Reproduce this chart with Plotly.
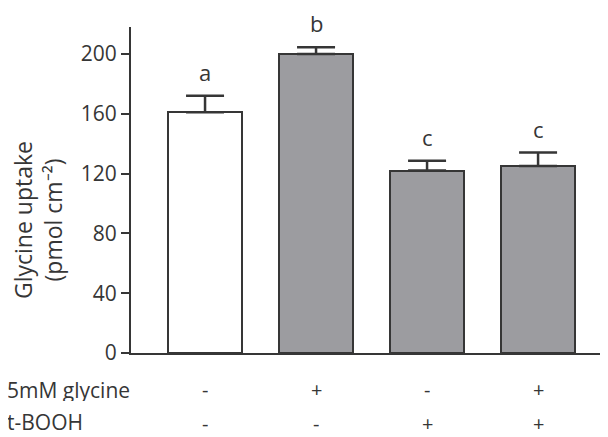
import plotly.graph_objects as go

# Data
conditions = [0, 1, 2, 3]
uptake = [161, 200, 122, 125]
sem = [11, 4.5, 6.5, 9]
letters = ["a", "b", "c", "c"]
glycine_row = ["-", "+", "-", "+"]
tbooh_row = ["-", "-", "+", "+"]
row_labels = ["5mM glycine", "t-BOOH"]
y_ticks = [0, 40, 80, 120, 160, 200]
fills = ["#ffffff", "#9c9ca0", "#9c9ca0", "#9c9ca0"]

FONT = "Open Sans"
TXT = "#363636"
LINE = "#363636"

# page body has an 8px margin; figure fills the rest of the 608x437 window
OFF = 8
W, H = 608 - OFF, 437 - OFF
ml, mr, mt, mb = 131 - OFF, 0, 27 - OFF, 84
pw = W - ml - mr
ph = H - mt - mb

def px(pix):  # window pixel -> paper x
    return (pix - OFF - ml) / pw

def py(pix):  # window pixel -> paper y
    return (H - mb - (pix - OFF)) / ph

fig = go.Figure()
fig.add_trace(go.Bar(
    x=conditions, y=uptake, width=0.667,
    marker=dict(color=fills, line=dict(color=LINE, width=2)),
    error_y=dict(type="data", array=sem, arrayminus=[0]*4, symmetric=False,
                 color=LINE, thickness=2.5, width=19),
    showlegend=False,
))

ann = []
for c, v, e, l in zip(conditions, uptake, sem, letters):
    ann.append(dict(x=c, y=v + e, xref="x", yref="y", text=l, showarrow=False,
                    yanchor="bottom", yshift=7, font=dict(family=FONT, size=22, color=TXT)))

for c, g, t in zip(conditions, glycine_row, tbooh_row):
    ann.append(dict(x=c, y=py(389), xref="x", yref="paper", text=g, showarrow=False,
                    yanchor="middle", height=22, valign="middle",
                    font=dict(family=FONT, size=20, color=TXT)))
    ann.append(dict(x=c, y=py(423), xref="x", yref="paper", text=t, showarrow=False,
                    yanchor="middle", height=22, valign="middle",
                    font=dict(family=FONT, size=20, color=TXT)))

for lab, pix in zip(row_labels, [390, 422]):
    ann.append(dict(x=px(5), y=py(pix), xref="paper", yref="paper", text=lab,
                    xanchor="left", yanchor="middle", height=22, valign="middle",
                    showarrow=False, font=dict(family=FONT, size=21, color=TXT)))

ann.append(dict(x=px(38), y=py(220), xref="paper", yref="paper",
                text="Glycine uptake<br>(pmol cm⁻²)", textangle=-90,
                xanchor="center", yanchor="middle",
                showarrow=False, font=dict(family=FONT, size=23, color=TXT)))

fig.update_layout(
    width=W, height=H, margin=dict(l=ml, r=mr, t=mt, b=mb),
    paper_bgcolor="white", plot_bgcolor="white",
    annotations=ann, bargap=0,
    xaxis=dict(range=[-0.667, 3.63], showticklabels=False, ticks="", showgrid=False,
               zeroline=False, showline=True, linecolor=LINE, linewidth=2),
    yaxis=dict(range=[0, 218], tickvals=y_ticks, ticks="outside", ticklen=8, tickwidth=2,
               tickcolor=LINE, showgrid=False, zeroline=False, showline=True,
               linecolor=LINE, linewidth=2,
               tickfont=dict(family=FONT, size=21, color=TXT)),
)

fig.write_html("out.html")
